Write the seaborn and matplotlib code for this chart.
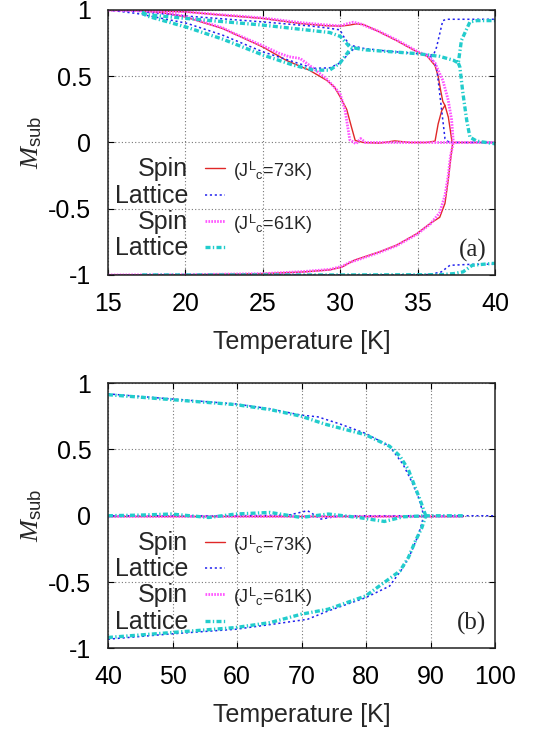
import matplotlib
matplotlib.use("Agg")
import matplotlib.pyplot as plt
import seaborn as sns

# ---- panel (a): 15-40 K ----
T_spin73_up = [15, 17, 20, 22, 25, 27.4, 29.0, 30.0, 30.5, 31.0, 31.5, 32.5, 33.6, 35.0, 35.6,
               36.1, 36.3, 36.45, 36.6, 36.74, 36.96, 37.1, 37.2, 38, 39, 40]
M_spin73_up = [1.0, 0.997, 0.986, 0.965, 0.936, 0.898, 0.882, 0.878, 0.885, 0.895, 0.89, 0.835, 0.77,
               0.68, 0.65, 0.58, 0.50, 0.40, 0.31, 0.28, 0.19, 0.08, 0.0, 0.0, 0.0, 0.0]
T_spin73_mid = [15, 17, 18.5, 19.9, 22.4, 25.0, 26.5, 28.0, 29.1, 29.6, 30.0, 30.4, 30.7, 30.95,
                31.5, 32.5, 33.5, 34.5, 35.5, 36.1, 36.3, 36.53, 36.74]
M_spin73_mid = [1.0, 0.995, 0.98, 0.95, 0.86, 0.72, 0.62, 0.545, 0.47, 0.42, 0.34, 0.25, 0.12, 0.015,
                0.0, -0.005, 0.012, 0.0, 0.0, 0.01, 0.14, 0.24, 0.28]
T_spin73_low = [15, 20, 25, 27.5, 29.3, 30.1, 30.9, 32.5, 33.6, 34.9, 35.8, 36.4, 36.74, 36.95,
                37.1, 37.24]
M_spin73_low = [-1.0, -0.998, -0.99, -0.978, -0.962, -0.94, -0.888, -0.826, -0.776, -0.69, -0.61,
                -0.565, -0.46, -0.285, -0.13, 0.0]

T_spin61_up = [15, 17, 20, 22, 25, 27.4, 29.0, 30.0, 30.4, 30.83, 31.3, 32.5, 33.6, 35.0, 35.6,
               36.1, 36.4, 36.6, 36.95, 37.17, 37.28, 38, 40]
M_spin61_up = [1.0, 0.997, 0.987, 0.967, 0.94, 0.905, 0.888, 0.88, 0.895, 0.908, 0.895, 0.838, 0.775,
               0.685, 0.655, 0.6, 0.52, 0.47, 0.32, 0.17, 0.0, 0.0, 0.0]
T_spin61_mid = [15, 17, 18.5, 19.9, 22.4, 23.1, 24, 25.0, 26.0, 26.7, 27.4, 28.25, 29.1, 29.97,
                30.3, 30.6, 31.0, 31.3, 31.6, 33, 35, 36, 37.3]
M_spin61_mid = [1.0, 0.995, 0.982, 0.955, 0.865, 0.825, 0.78, 0.73, 0.675, 0.647, 0.634, 0.56, 0.48,
                0.37, 0.24, 0.02, -0.01, 0.03, 0.0, 0.0, 0.0, 0.0, 0.0]
T_spin61_low = [15, 20, 25, 27.5, 29.3, 30.1, 30.6, 31.0, 32.5, 33.6, 34.9, 35.8, 36.4, 36.74,
                36.95, 37.1, 37.28]
M_spin61_low = [-1.0, -0.998, -0.99, -0.975, -0.958, -0.935, -0.905, -0.89, -0.83, -0.78, -0.695,
                -0.615, -0.53, -0.4, -0.25, -0.1, 0.0]

T_lat73_up = [15, 16.85, 20.08, 25.0, 28.0, 29.3, 29.97, 30.2, 30.6, 31.5, 33.0, 35.0, 36.0, 36.2,
              36.4, 36.6, 36.85, 38, 40]
M_lat73_up = [1.0, 0.99, 0.954, 0.91, 0.88, 0.862, 0.85, 0.80, 0.735, 0.71, 0.69, 0.67, 0.66, 0.72,
              0.82, 0.92, 0.93, 0.93, 0.93]
T_lat73_mid = [15, 16.85, 20.08, 22.4, 25.0, 26.95, 28.25, 29.3, 29.97, 30.6, 31.0]
M_lat73_mid = [1.0, 0.974, 0.90, 0.81, 0.684, 0.61, 0.56, 0.563, 0.60, 0.68, 0.72]
T_lat73_drop = [35.8, 36.2, 36.4, 36.6, 36.74, 37.0, 40]
M_lat73_drop = [0.655, 0.57, 0.37, 0.17, 0.03, 0.0, 0.0]
T_lat73_low = [15, 20, 25, 30, 35.5, 36.0, 36.5, 37.06, 38.35, 40]
M_lat73_low = [-1.0, -1.0, -1.0, -1.0, -0.998, -0.99, -0.977, -0.927, -0.92, -0.918]

T_lat61_up = [17.2, 17.5, 20.08, 25.0, 29.3, 30.0, 30.6, 31.5, 35.0, 36.4, 37.3, 37.6, 37.8, 38.35,
              38.8, 40]
M_lat61_up = [0.985, 0.965, 0.936, 0.886, 0.83, 0.80, 0.72, 0.70, 0.67, 0.65, 0.62, 0.60, 0.77, 0.91,
              0.92, 0.92]
T_lat61_mid = [17.2, 17.5, 20.08, 22.4, 25.0, 26.95, 28.25, 29.3, 29.97, 30.6, 31.0]
M_lat61_mid = [0.98, 0.955, 0.87, 0.78, 0.66, 0.584, 0.546, 0.546, 0.60, 0.70, 0.715]
T_lat61_drop = [37.6, 37.7, 37.9, 38.14, 38.35, 38.8, 40]
M_lat61_drop = [0.60, 0.57, 0.37, 0.17, 0.04, 0.01, -0.01]
T_lat61_low = [17.2, 25, 30, 36.5, 37.3, 37.9, 38.5, 39.7, 40]
M_lat61_low = [-1.0, -1.0, -1.0, -0.998, -0.99, -0.977, -0.927, -0.914, -0.912]

# ---- panel (b): 40-100 K ----
T_b_spin = [40, 95]
M_b_spin = [0.0, 0.0]
T_b_lat73_up = [40, 49.8, 59.8, 65.1, 69.9, 72.5, 76, 79.9, 83.6, 85.7, 87.0, 88.1, 88.9]
M_b_lat73_up = [0.918, 0.88, 0.842, 0.805, 0.758, 0.745, 0.69, 0.62, 0.524, 0.386, 0.26, 0.135, 0.0]
T_b_lat73_low = [40, 49.8, 59.8, 65.1, 70.9, 74.1, 79.9, 83.6, 85.7, 86.8, 88.1, 88.9]
M_b_lat73_low = [-0.93, -0.89, -0.855, -0.82, -0.78, -0.717, -0.617, -0.53, -0.39, -0.29, -0.14, 0.0]
T_b_lat73_zero = [40, 60, 68, 70.9, 73.0, 76, 89, 100]
M_b_lat73_zero = [0.0, 0.0, 0.005, 0.038, -0.025, 0.0, 0.0, 0.0]
T_b_lat61_up = [40, 49.8, 59.8, 65.1, 69.9, 73.6, 79.9, 83.6, 85.2, 86.5, 87.6, 88.4, 89.2]
M_b_lat61_up = [0.912, 0.875, 0.837, 0.80, 0.75, 0.69, 0.61, 0.524, 0.449, 0.348, 0.21, 0.11, 0.0]
T_b_lat61_low = [40, 49.8, 59.8, 65.1, 69.9, 74.1, 79.9, 83.1, 85.2, 86.5, 87.6, 88.6, 89.2]
M_b_lat61_low = [-0.917, -0.88, -0.842, -0.805, -0.742, -0.704, -0.604, -0.491, -0.416, -0.316,
                 -0.19, -0.09, 0.0]
T_b_lat61_zero = [40, 45, 49.8, 55.6, 59.8, 65.1, 69.9, 74.1, 78.8, 82.8, 85.7, 89.2, 95]
M_b_lat61_zero = [0.0, 0.005, 0.013, -0.013, 0.013, 0.025, -0.013, 0.013, -0.013, -0.043, -0.008,
                  0.0, 0.0]

legend_labels = ["Spin", "Lattice", "Spin", "Lattice"]
coupling_labels = [r"(J$^{\mathrm{L}}$$_{\mathrm{c}}$=73K)", r"(J$^{\mathrm{L}}$$_{\mathrm{c}}$=61K)"]

styles = {
    "spin73": dict(color="#e02828", lw=1.0, ls="-"),
    "lat73": dict(color="#2222ee", lw=1.1, ls=(0, (1.4, 1.8))),
    "spin61": dict(color="#ff55ff", lw=2.0, ls=(0, (0.6, 0.45))),
    "lat61": dict(color="#22cccc", lw=2.4, ls=(0, (1.5, 0.7, 0.4, 0.7))),
}
order = ["spin73", "lat73", "spin61", "lat61"]

panel_a = {
    "spin73": [(T_spin73_up, M_spin73_up), (T_spin73_mid, M_spin73_mid), (T_spin73_low, M_spin73_low)],
    "lat73": [(T_lat73_up, M_lat73_up), (T_lat73_mid, M_lat73_mid), (T_lat73_drop, M_lat73_drop),
              (T_lat73_low, M_lat73_low)],
    "spin61": [(T_spin61_up, M_spin61_up), (T_spin61_mid, M_spin61_mid), (T_spin61_low, M_spin61_low)],
    "lat61": [(T_lat61_up, M_lat61_up), (T_lat61_mid, M_lat61_mid), (T_lat61_drop, M_lat61_drop),
              (T_lat61_low, M_lat61_low)],
}
panel_b = {
    "spin73": [(T_b_spin, M_b_spin)],
    "lat73": [(T_b_lat73_up, M_b_lat73_up), (T_b_lat73_low, M_b_lat73_low),
              (T_b_lat73_zero, M_b_lat73_zero)],
    "spin61": [(T_b_spin, M_b_spin)],
    "lat61": [(T_b_lat61_up, M_b_lat61_up), (T_b_lat61_low, M_b_lat61_low),
              (T_b_lat61_zero, M_b_lat61_zero)],
}

sns.set_style("ticks")
plt.rcParams["font.family"] = ["Liberation Sans", "DejaVu Sans"]
plt.rcParams["mathtext.fontset"] = "custom"
plt.rcParams["mathtext.rm"] = "Liberation Sans"
plt.rcParams["mathtext.it"] = "Liberation Serif:italic"
plt.rcParams["axes.unicode_minus"] = False

fig = plt.figure(figsize=(5.38, 7.35), dpi=100)
ax_a = fig.add_axes([0.2007, 0.6259, 0.7203, 0.3605])
ax_b = fig.add_axes([0.2007, 0.1177, 0.7203, 0.3612])


def draw_panel(ax, data, xlim, xticks, tag):
    for key in order:
        for x, y in data[key]:
            sns.lineplot(x=x, y=y, ax=ax, sort=False, estimator=None, **styles[key])
    ax.set_xlim(*xlim)
    ax.set_ylim(-1, 1)
    ax.set_xticks(xticks)
    ax.set_yticks([-1, -0.5, 0, 0.5, 1])
    ax.set_yticklabels(["-1", "-0.5", "0", "0.5", "1"])
    ax.grid(True, color="#777777", ls=(0, (1, 2)), lw=0.8)
    ax.set_axisbelow(True)
    ax.tick_params(direction="in", top=True, right=True, length=4, width=0.8,
                   labelsize=18, pad=12, colors="black")
    for s in ax.spines.values():
        s.set_linewidth(1.1)
        s.set_color("#222222")
    ax.set_xlabel("Temperature [K]", fontsize=18, labelpad=10)
    ax.set_ylabel(r"$\mathit{M}_{\mathrm{sub}}$", fontsize=19, labelpad=3)

    # key in gnuplot style: text right-aligned, sample to the right
    rows = [0.402, 0.303, 0.204, 0.105]
    for key, lab, yr in zip(order, legend_labels, rows):
        ax.plot([0.25, 0.302], [yr, yr], transform=ax.transAxes, clip_on=False, **styles[key])
        ax.text(0.207, yr - 0.03, lab, transform=ax.transAxes, ha="right", va="baseline",
                fontsize=18)
    for yr, lab in zip([rows[0], rows[2]], coupling_labels):
        ax.text(0.322, yr - 0.033, lab, transform=ax.transAxes, ha="left", va="baseline",
                fontsize=13)
    ax.text(0.977, 0.094, tag, transform=ax.transAxes, ha="right", va="center",
            fontsize=18, family="Liberation Serif")


draw_panel(ax_a, panel_a, (15, 40), [15, 20, 25, 30, 35, 40], "(a)")
draw_panel(ax_b, panel_b, (40, 100), [40, 50, 60, 70, 80, 90, 100], "(b)")

fig.savefig("out.png", dpi=100)
